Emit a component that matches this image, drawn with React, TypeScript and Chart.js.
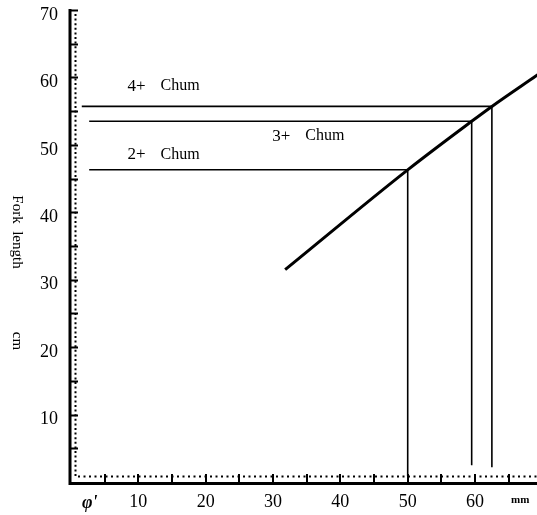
import React, { useEffect, useRef } from 'react';
import { Chart, registerables } from 'chart.js';
Chart.register(...registerables);

// Body-scale relationship (scale length, mm -> fork length, cm)
const curveX = [31.8, 50.0, 59.5, 62.5, 69.3];
const curveY = [31.5, 46.3, 53.5, 55.7, 60.4];

// Age groups
const ageLabels = ['2+', '3+', '4+'];
const ageX = [50.0, 59.5, 62.5];
const ageY = [46.3, 53.5, 55.7];
const hLineStart = [2.7, 2.7, 1.6];
const vLineEnd = [0.9, 2.5, 2.2];
const labelX = [8.4, 29.9, 8.4];
const labelY = [48.6, 51.3, 58.7];

const xMax = 69.2;
const yMax = 70;
const xLabelTicks = [10, 20, 30, 40, 50, 60];
const yLabelTicks = [10, 20, 30, 40, 50, 60, 70];

const SERIF = '"Liberation Serif", "DejaVu Serif", serif';

const overlay = {
  id: 'overlay',
  afterDraw(chart: any) {
    const ctx = chart.ctx;
    const xs = chart.scales.x;
    const ys = chart.scales.y;
    const px = (v: number) => xs.getPixelForValue(v);
    const py = (v: number) => ys.getPixelForValue(v);
    const x0 = px(0);
    const y0 = py(0);
    const right = chart.chartArea.right;
    ctx.save();
    ctx.strokeStyle = '#000';
    ctx.fillStyle = '#000';
    // dotted inner lines
    ctx.lineWidth = 2;
    ctx.setLineDash([2, 2.6]);
    ctx.beginPath();
    ctx.moveTo(x0 + 4.5, py(yMax) + 4);
    ctx.lineTo(x0 + 4.5, y0 - 5);
    ctx.stroke();
    ctx.setLineDash([2, 3.5]);
    ctx.beginPath();
    ctx.moveTo(x0 + 7, y0 - 5.5);
    ctx.lineTo(right, y0 - 5.5);
    ctx.stroke();
    ctx.setLineDash([]);
    // axes
    ctx.lineWidth = 3;
    ctx.beginPath();
    ctx.moveTo(x0 - 1, py(yMax) - 1);
    ctx.lineTo(x0 - 1, y0 + 1.5);
    ctx.lineTo(right, y0 + 1.5);
    ctx.stroke();
    // inward ticks
    ctx.lineWidth = 2;
    ctx.beginPath();
    for (let v = 5; v <= yMax; v += 5) {
      const y = Math.round(py(v)) + 0.5;
      ctx.moveTo(x0, y);
      ctx.lineTo(x0 + 7, y);
    }
    for (let v = 5; v < xMax; v += 5) {
      const x = Math.round(px(v));
      ctx.moveTo(x, y0 + 1);
      ctx.lineTo(x, y0 - 8);
    }
    ctx.stroke();
    // age labels
    ctx.textBaseline = 'middle';
    ctx.textAlign = 'left';
    ageLabels.forEach((lab, i) => {
      const x = px(labelX[i]);
      const y = py(labelY[i]);
      ctx.font = `17px ${SERIF}`;
      ctx.fillText(lab, x, y);
      ctx.font = `16px ${SERIF}`;
      ctx.fillText('Chum', x + 33, y);
    });
    // origin mark and unit
    ctx.font = `italic bold 18px ${SERIF}`;
    ctx.textAlign = 'center';
    ctx.fillText("\u03c6'", px(2.8), 503);
    ctx.font = `bold 11px ${SERIF}`;
    ctx.fillText('mm', px(66.7), 500);
    // y title (rotated clockwise)
    ctx.font = `15px ${SERIF}`;
    ctx.save();
    ctx.translate(17, 232);
    ctx.rotate(Math.PI / 2);
    ctx.fillText('Fork  length', 0, 0);
    ctx.restore();
    ctx.save();
    ctx.translate(17, 341);
    ctx.rotate(Math.PI / 2);
    ctx.fillText('cm', 0, 0);
    ctx.restore();
    ctx.restore();
  },
};

const zeroPad = (s: any) => {
  s.paddingTop = 0;
  s.paddingBottom = 0;
  s.paddingLeft = 0;
  s.paddingRight = 0;
};

export default function App() {
  const ref = useRef<HTMLCanvasElement>(null);
  useEffect(() => {
    if (!ref.current) return;
    const lineStyle = { borderColor: '#000', pointRadius: 0, fill: false };
    const datasets: any[] = [
      {
        data: curveX.map((x, i) => ({ x, y: curveY[i] })),
        ...lineStyle,
        borderWidth: 3,
        cubicInterpolationMode: 'monotone',
      },
    ];
    ageLabels.forEach((_, i) => {
      datasets.push({
        data: [
          { x: hLineStart[i], y: ageY[i] },
          { x: ageX[i], y: ageY[i] },
        ],
        ...lineStyle,
        borderWidth: 1.6,
      });
      datasets.push({
        data: [
          { x: ageX[i], y: ageY[i] },
          { x: ageX[i], y: vLineEnd[i] },
        ],
        ...lineStyle,
        borderWidth: 1.6,
      });
    });
    const tickCb = (list: number[]) => (v: any) => (list.includes(Number(v)) ? String(v) : '');
    const chart = new Chart(ref.current, {
      type: 'line',
      data: { datasets },
      options: {
        animation: false,
        responsive: false,
        devicePixelRatio: 1,
        layout: { padding: { top: 10, right: 0, left: 0, bottom: 0 } },
        plugins: { legend: { display: false }, tooltip: { enabled: false } },
        scales: {
          x: {
            type: 'linear',
            min: 0,
            max: xMax,
            grid: { display: false, drawTicks: false },
            border: { display: false },
            ticks: {
              stepSize: 5,
              autoSkip: false,
              maxRotation: 0,
              padding: 9,
              color: '#000',
              font: { family: SERIF, size: 18 },
              callback: tickCb(xLabelTicks),
            },
            afterFit: (s: any) => {
              s.height = 33;
              zeroPad(s);
            },
          },
          y: {
            type: 'linear',
            min: 0,
            max: yMax,
            grid: { display: false, drawTicks: false },
            border: { display: false },
            ticks: {
              stepSize: 5,
              autoSkip: false,
              padding: 13,
              labelOffset: 5,
              color: '#000',
              font: { family: SERIF, size: 18 },
              callback: tickCb(yLabelTicks),
            },
            afterFit: (s: any) => {
              s.width = 71;
              zeroPad(s);
            },
          },
        },
      },
      plugins: [overlay],
    });
    return () => chart.destroy();
  }, []);
  return (
    <div style={{ position: 'absolute', left: 0, top: 0, width: 537, height: 515, background: '#fff' }}>
      <canvas ref={ref} width={537} height={515} />
    </div>
  );
}
